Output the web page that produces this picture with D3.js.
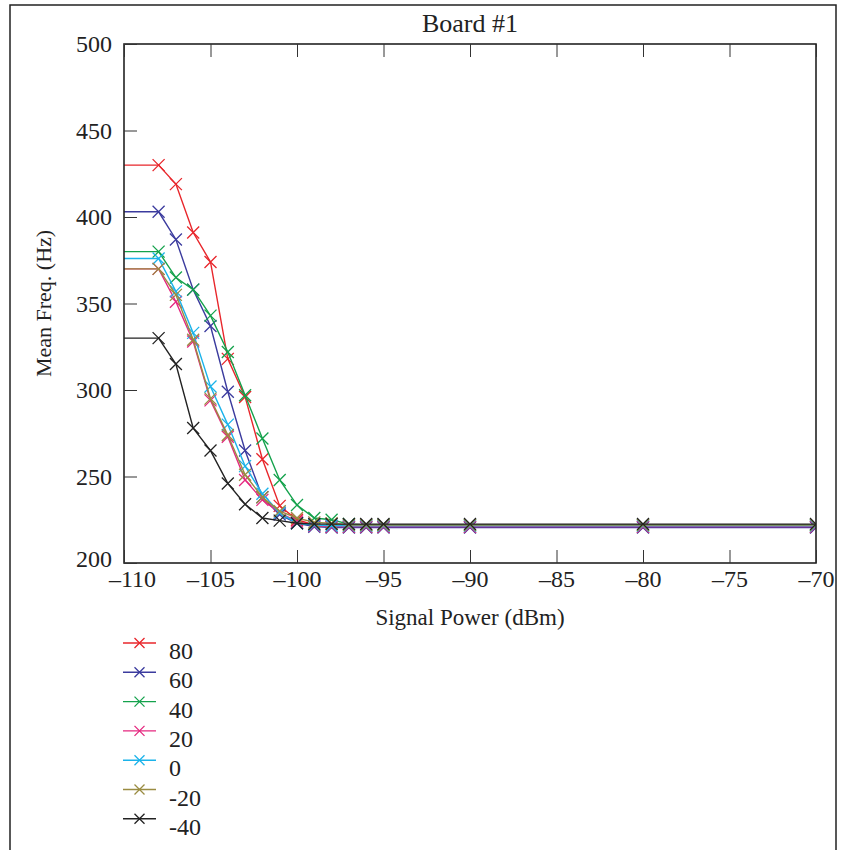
<!DOCTYPE html>
<html><head><meta charset="utf-8">
<script src="https://cdn.jsdelivr.net/npm/d3@7"></script>
<style>
body{margin:0;background:#fff;}
svg{display:block;}
text{font-family:"Liberation Serif","Times New Roman",serif;fill:#222;}
</style></head>
<body>
<script>
const xValues = [-110, -108, -107, -106, -105, -104, -103, -102, -101, -100, -99, -98, -97, -96, -95, -90, -80, -70];
const seriesNames = ["80", "60", "40", "20", "0", "-20", "-40"];
const s80  = [430, 430, 419, 391, 374, 318, 296, 260, 233, 225, 222, 221, 221, 221, 221, 221, 221, 221];
const s60  = [403, 403, 387, 358, 337, 299, 265, 238, 228, 223, 221, 220.5, 220.5, 220.5, 220.5, 220.5, 220.5, 220.5];
const s40  = [380, 380, 365, 358, 343, 322, 297, 272, 248, 233.5, 226, 225, 222.5, 222, 222, 222, 222, 222];
const s20  = [370, 370, 351, 328, 294, 273, 248, 236.5, 229, 224, 221.5, 221, 221, 221, 221, 221, 221, 221];
const s0   = [376, 376, 357, 333, 302, 280, 256, 240, 229, 223, 222, 221.5, 221.5, 221.5, 221.5, 221.5, 221.5, 221.5];
const sm20 = [370, 370, 355, 329, 295, 274, 251, 238, 230, 226, 223.5, 223, 222, 222, 222, 222, 222, 222];
const sm40 = [330, 330, 315, 278, 265, 246, 234, 226, 224.5, 223, 222.5, 222.5, 222.5, 222.5, 222.5, 222.5, 222.5, 222.5];
const seriesValues = [s80, s60, s40, s20, s0, sm20, sm40];
const colors = ["#e8262b", "#3b3b9e", "#14a24c", "#e5277f", "#1bb3ea", "#9a8c42", "#222222"];
const xTicks = [-110, -105, -100, -95, -90, -85, -80, -75, -70];
const yTicks = [200, 250, 300, 350, 400, 450, 500];

const W = 843, H = 850;
const svg = d3.select("body").append("svg").attr("width", W).attr("height", H);

// outer frame
svg.append("path").attr("d", `M10,${H} L10,5 L836,5 L836,${H}`)
  .attr("fill", "none").attr("stroke", "#222").attr("stroke-width", 1.5);

const L = 124, R = 816, T = 44, B = 563;
const x = d3.scaleLinear().domain([-110, -70]).range([L, R]);
const y = d3.scaleLinear().domain([200, 500]).range([B, T]);

// title
svg.append("text").attr("x", (L + R) / 2 + 0).attr("y", 32).attr("text-anchor", "middle")
  .attr("font-size", 26).text("Board #1");

// clip
svg.append("clipPath").attr("id", "clip").append("rect")
  .attr("x", L).attr("y", T).attr("width", R - L).attr("height", B - T);

const line = d3.line().x(d => x(d[0])).y(d => y(d[1]));
const plot = svg.append("g").attr("clip-path", "url(#clip)");

function cross(g, cx, cy, s, color) {
  g.append("path").attr("d", `M${cx - s},${cy - s}L${cx + s},${cy + s}M${cx - s},${cy + s}L${cx + s},${cy - s}`)
    .attr("stroke", color).attr("stroke-width", 1.3).attr("fill", "none");
}

seriesValues.forEach((vals, i) => {
  const pts = xValues.map((xv, j) => [xv, vals[j]]);
  plot.append("path").attr("d", line(pts)).attr("fill", "none")
    .attr("stroke", colors[i]).attr("stroke-width", 1.4);
  pts.forEach((p, j) => { if (j > 0) cross(plot, x(p[0]), y(p[1]), 6, colors[i]); });
});

// axes frame
svg.append("rect").attr("x", L).attr("y", T).attr("width", R - L).attr("height", B - T)
  .attr("fill", "none").attr("stroke", "#222").attr("stroke-width", 1.6);

const fontFam = '"Liberation Serif","Times New Roman",serif';

// bottom axis ticks and labels
const xAxisB = d3.axisBottom(x).tickValues(xTicks).tickSize(-13).tickPadding(7)
  .tickFormat(d => d === 0 ? "0" : "\u2013" + Math.abs(d));
const gB = svg.append("g").attr("transform", `translate(0,${B})`).call(xAxisB);
gB.select(".domain").remove();
gB.selectAll("line").attr("stroke", "#333").attr("stroke-width", 1);
gB.selectAll("text").attr("font-size", 24).attr("fill", "#222").attr("font-family", fontFam)
  .attr("dx", d => d === xTicks[0] ? 8 : 0);

// top ticks
const xAxisT = d3.axisTop(x).tickValues(xTicks).tickSize(-13).tickFormat("");
const gT = svg.append("g").attr("transform", `translate(0,${T})`).call(xAxisT);
gT.select(".domain").remove();
gT.selectAll("line").attr("stroke", "#333").attr("stroke-width", 1);

// left axis
const yAxis = d3.axisLeft(y).tickValues(yTicks).tickSize(-13).tickPadding(12);
const gL = svg.append("g").attr("transform", `translate(${L},0)`).call(yAxis);
gL.select(".domain").remove();
gL.selectAll("line").attr("stroke", "#333").attr("stroke-width", 1);
gL.selectAll("text").attr("font-size", 24).attr("fill", "#222").attr("font-family", fontFam)
  .attr("dy", d => d === yTicks[0] ? "0.15em" : "0.32em");

// axis labels
svg.append("text").attr("x", (L + R) / 2 + 0).attr("y", 625).attr("text-anchor", "middle")
  .attr("font-size", 23).text("Signal Power (dBm)");
svg.append("text").attr("transform", `translate(51,${(T + B) / 2}) rotate(-90)`)
  .attr("text-anchor", "middle").attr("font-size", 22).text("Mean Freq. (Hz)");

// legend
const leg = svg.append("g");
seriesNames.forEach((name, i) => {
  const ly = 643 + i * 29.3;
  leg.append("line").attr("x1", 123).attr("x2", 156).attr("y1", ly).attr("y2", ly)
    .attr("stroke", colors[i]).attr("stroke-width", 1.4);
  cross(leg, 139.5, ly, 5, colors[i]);
  leg.append("text").attr("x", 169).attr("y", ly + 16).attr("font-size", 24).text(name);
});
</script>
</body></html>
